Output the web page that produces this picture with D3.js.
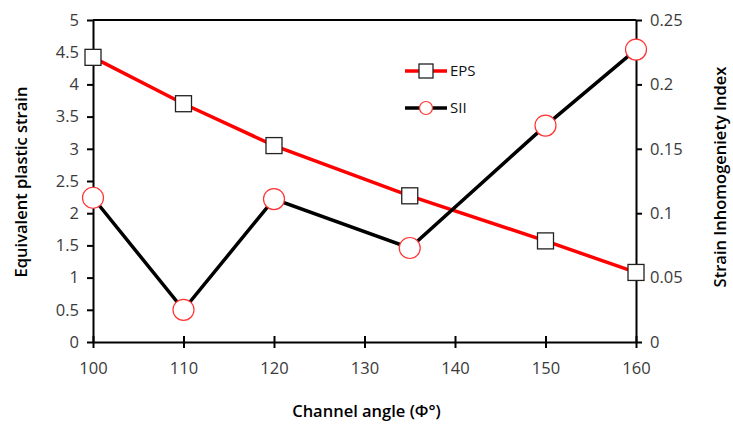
<!DOCTYPE html>
<html>
<head>
<meta charset="utf-8">
<script src="https://cdn.jsdelivr.net/npm/d3@7"></script>
<style>
  body { margin: 0; background: #fff; }
  text { font-family: "Open Sans", "DejaVu Sans", sans-serif; }
</style>
</head>
<body>
<svg id="chart" width="733" height="424"></svg>
<script>
'use strict';

// channel angles
const angles = [100, 110, 120, 135, 150, 160];
// equivalent plastic strain (left axis)
const eps = [4.42, 3.70, 3.05, 2.27, 1.57, 1.08];
// strain inhomogeneity index (right axis)
const sii = [0.112, 0.025, 0.111, 0.073, 0.168, 0.227];

const xTicks = [100, 110, 120, 130, 140, 150, 160];
const yLeftTicks = [0, 0.5, 1, 1.5, 2, 2.5, 3, 3.5, 4, 4.5, 5];
const yRightTicks = [0, 0.05, 0.1, 0.15, 0.2, 0.25];

const margin = {top: 20, right: 97, bottom: 82, left: 93};
const width = 733 - margin.left - margin.right;
const height = 424 - margin.top - margin.bottom;

const svg = d3.select('#chart');
const g = svg.append('g').attr('transform', `translate(${margin.left},${margin.top})`);

const x = d3.scaleLinear().domain([100, 160]).range([0, width]);
const yL = d3.scaleLinear().domain([0, 5]).range([height, 0]);
const yR = d3.scaleLinear().domain([0, 0.25]).range([height, 0]);

// plot frame (top line)
g.append('line').attr('x1', 0).attr('x2', width).attr('y1', 0).attr('y2', 0)
  .attr('stroke', '#000').attr('stroke-width', 2);

function styleAxis(sel) {
  sel.select('.domain').attr('stroke', '#000').attr('stroke-width', 2);
  sel.selectAll('.tick line').attr('stroke', '#000').attr('stroke-width', 2);
  sel.selectAll('.tick text').attr('fill', '#3a3a3a').style('font-size', '16.5px');
}

const fmt = d => String(d);

g.append('g')
  .attr('transform', `translate(0,${height})`)
  .call(d3.axisBottom(x).tickValues(xTicks).tickFormat(fmt).tickSize(6).tickSizeOuter(0).tickPadding(14))
  .call(styleAxis)
  .call(a => a.selectAll('.tick line').attr('y1', -6));

g.append('g')
  .call(d3.axisLeft(yL).tickValues(yLeftTicks).tickFormat(fmt).tickSize(6).tickSizeOuter(0).tickPadding(8))
  .call(styleAxis);

g.append('g')
  .attr('transform', `translate(${width},0)`)
  .call(d3.axisRight(yR).tickValues(yRightTicks).tickFormat(fmt).tickSize(6).tickSizeOuter(0).tickPadding(8))
  .call(styleAxis);

// axis titles
svg.append('text')
  .attr('transform', `translate(27,${margin.top + height / 2 + 1}) rotate(-90)`)
  .attr('text-anchor', 'middle')
  .style('font-size', '16.5px').style('font-weight', 600)
  .text('Equivalent plastic strain');

svg.append('text')
  .attr('transform', `translate(726,${margin.top + height / 2 - 4}) rotate(-90)`)
  .attr('text-anchor', 'middle')
  .style('font-size', '16.5px').style('font-weight', 600)
  .text('Strain Inhomogeniety Index');

svg.append('text')
  .attr('x', margin.left + width / 2 + 2)
  .attr('y', 417)
  .attr('text-anchor', 'middle')
  .style('font-size', '16.5px').style('font-weight', 600)
  .text('Channel angle (Φ°)');

// series lines
const epsLine = d3.line().x((d, i) => x(angles[i])).y(d => yL(d));
const siiLine = d3.line().x((d, i) => x(angles[i])).y(d => yR(d));

g.append('path').datum(eps).attr('d', epsLine)
  .attr('fill', 'none').attr('stroke', '#ff0000').attr('stroke-width', 3.5);
g.append('path').datum(sii).attr('d', siiLine)
  .attr('fill', 'none').attr('stroke', '#000').attr('stroke-width', 3.5);

const sq = 16;
g.selectAll('.eps-pt').data(eps).enter().append('rect')
  .attr('class', 'eps-pt')
  .attr('x', (d, i) => x(angles[i]) - sq / 2)
  .attr('y', d => yL(d) - sq / 2)
  .attr('width', sq).attr('height', sq)
  .attr('fill', '#fff').attr('stroke', '#222').attr('stroke-width', 1.3);

g.selectAll('.sii-pt').data(sii).enter().append('circle')
  .attr('class', 'sii-pt')
  .attr('cx', (d, i) => x(angles[i]))
  .attr('cy', d => yR(d))
  .attr('r', 10.5)
  .attr('fill', '#fff').attr('stroke', '#ff3333').attr('stroke-width', 1.2);

// legend
const legend = svg.append('g');
const items = [
  {name: 'EPS', color: '#ff0000', y: 71, marker: 'rect'},
  {name: 'SII', color: '#000', y: 108, marker: 'circle'}
];
items.forEach(it => {
  legend.append('line').attr('x1', 405).attr('x2', 447).attr('y1', it.y).attr('y2', it.y)
    .attr('stroke', it.color).attr('stroke-width', 3.5);
  if (it.marker === 'rect') {
    legend.append('rect').attr('x', 419).attr('y', it.y - 7).attr('width', 14).attr('height', 14)
      .attr('fill', '#fff').attr('stroke', '#222').attr('stroke-width', 1.3);
  } else {
    legend.append('circle').attr('cx', 426).attr('cy', it.y).attr('r', 6.5)
      .attr('fill', '#fff').attr('stroke', '#ff3333').attr('stroke-width', 1.2);
  }
  legend.append('text').attr('x', 450).attr('y', it.y + 5)
    .style('font-size', '15px').attr('fill', '#111').text(it.name);
});
</script>
</body>
</html>
